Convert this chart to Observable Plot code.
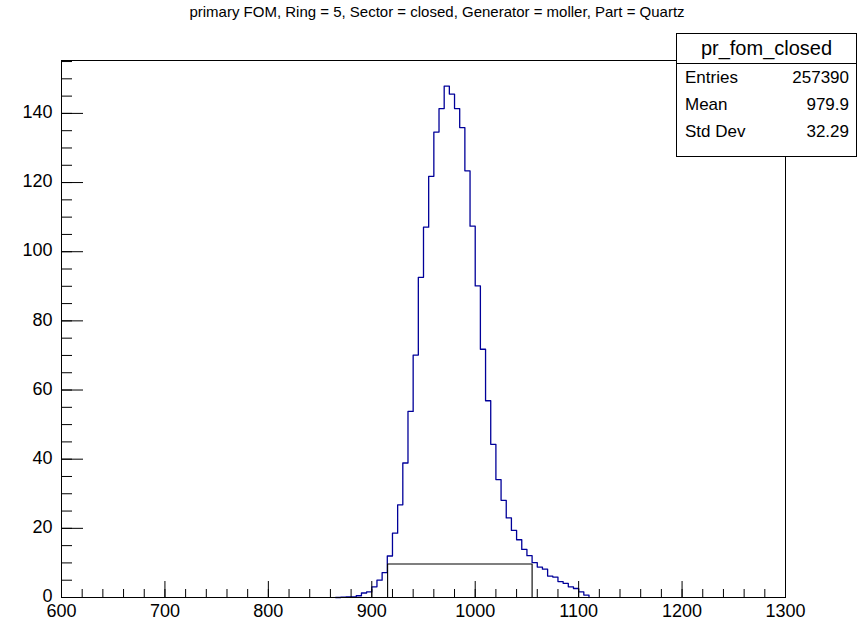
<!DOCTYPE html>
<html>
<head>
<meta charset="utf-8">
<script src="https://cdn.jsdelivr.net/npm/d3@7"></script>
<script src="https://cdn.jsdelivr.net/npm/@observablehq/plot@0.6"></script>
<style>
  html, body { margin: 0; padding: 0; background: white; }
  #wrap { position: relative; width: 858px; height: 624px; font-family: "Liberation Sans", Arial, sans-serif; }
  #title { position: absolute; top: 4px; left: 0; width: 874px; text-align: center; font-size: 15px; line-height: 16px; color: #000; }
  #stats { position: absolute; left: 676px; top: 33px; width: 181px; height: 124px; border: 1px solid #000; background: #fff; color: #000; box-sizing: border-box; }
  #stats .hdr { height: 29px; border-bottom: 1px solid #000; text-align: center; font-size: 20px; line-height: 28px; }
  #stats .row { display: flex; justify-content: space-between; padding: 0 7px 0 8px; height: 27px; line-height: 27px; font-size: 17px; }
</style>
</head>
<body>
<div id="wrap">
  <div id="chart"></div>
  <div id="title"></div>
  <div id="stats"></div>
</div>
<script>
// ---- data ----
const titleText = "primary FOM, Ring = 5, Sector = closed, Generator = moller, Part = Quartz";
const histName = "pr_fom_closed";
const statLabels = ["Entries", "Mean", "Std Dev"];
const statValues = ["257390", "979.9", "32.29"];

// bin low edges (bin width 5) and bin contents
const binLow = [865, 870, 875, 880, 885, 890, 895, 900, 905, 910, 915, 920, 925, 930, 935, 940, 945,
  950, 955, 960, 965, 970, 975, 980, 985, 990, 995, 1000, 1005, 1010, 1015, 1020, 1025, 1030,
  1035, 1040, 1045, 1050, 1055, 1060, 1065, 1070, 1075, 1080, 1085, 1090, 1095, 1100, 1105, 1110];
const binCounts = [0, 0.1, 0.2, 0.2, 0.5, 1.3, 1.6, 3.1, 5.0, 7.2, 12.0, 18.6, 26.8, 38.9, 53.8, 70.1, 92.6,
  107.1, 121.8, 134.6, 141.4, 147.9, 145.6, 141.4, 135.9, 123.4, 107.4, 90.1, 71.8, 56.9, 44.3, 34.1, 28.1, 23.0,
  19.4, 16.7, 13.9, 12.1, 10.1, 8.8, 8.2, 6.2, 5.9, 4.6, 4.1, 3.1, 2.6, 1.6, 0.7, 0];

// black marker line (TLine-like) drawn on the histogram
const markerX = [915.3, 915.3, 1055, 1055];
const markerY = [0, 9.7, 9.7, 0];

const xMajor = [600, 700, 800, 900, 1000, 1100, 1200, 1300];
const yMajor = [0, 20, 40, 60, 80, 100, 120, 140];
const xDomain = [600, 1300];
const yDomain = [0, 155.3];

// ---- build ----
const hist = binLow.map((x, i) => ({x, y: binCounts[i]}));
const marker = markerX.map((x, i) => ({x, y: markerY[i]}));
const xMinor = d3.range(xDomain[0], xDomain[1] + 1, 20);
const yMinor = d3.range(0, yDomain[1], 5);
const plain = d => String(d);

const chart = Plot.plot({
  width: 858,
  height: 624,
  marginLeft: 61,
  marginRight: 73,
  marginTop: 60,
  marginBottom: 27,
  style: {fontFamily: "Liberation Sans, Arial, sans-serif", fontSize: "18px", background: "white", color: "black"},
  x: {domain: xDomain},
  y: {domain: yDomain},
  marks: [
    Plot.line(hist, {x: "x", y: "y", curve: "step-after", stroke: "#000099", strokeWidth: 1.3}),
    Plot.line(marker, {x: "x", y: "y", stroke: "#000", strokeWidth: 1.1}),
    Plot.axisX(xMinor, {anchor: "bottom", tickSize: -8, tickFormat: () => "", label: null}),
    Plot.axisX(xMajor, {anchor: "bottom", tickSize: -16, tickFormat: () => "", label: null}),
    Plot.axisX(xMajor, {anchor: "bottom", tickSize: 0, tickPadding: 7, tickFormat: plain, label: null, fontSize: 18}),
    Plot.axisY(yMinor, {anchor: "left", tickSize: -11, tickFormat: () => "", label: null}),
    Plot.axisY(yMajor, {anchor: "left", tickSize: -22, tickFormat: () => "", label: null}),
    Plot.axisY(yMajor, {anchor: "left", tickSize: 0, tickPadding: 9, tickFormat: plain, label: null, fontSize: 18, dy: -1}),
    Plot.frame({stroke: "black"})
  ]
});
document.getElementById("chart").appendChild(chart);

document.getElementById("title").textContent = titleText;
const stats = document.getElementById("stats");
const hdr = document.createElement("div");
hdr.className = "hdr";
hdr.textContent = histName;
stats.appendChild(hdr);
statLabels.forEach((lab, i) => {
  const r = document.createElement("div");
  r.className = "row";
  const a = document.createElement("span"); a.textContent = lab;
  const b = document.createElement("span"); b.textContent = statValues[i];
  r.appendChild(a); r.appendChild(b);
  stats.appendChild(r);
});
</script>
</body>
</html>
